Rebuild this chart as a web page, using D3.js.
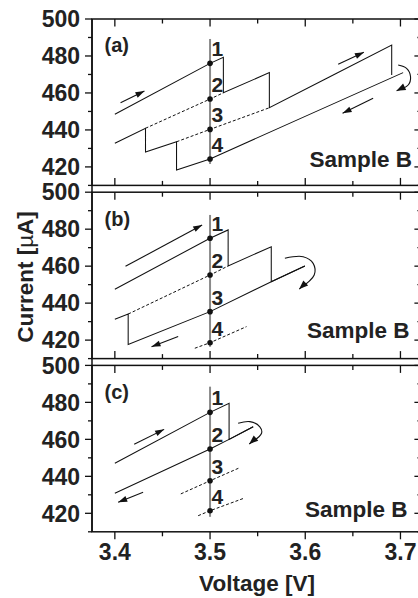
<!DOCTYPE html>
<html><head><meta charset="utf-8">
<script src="https://cdn.jsdelivr.net/npm/d3@7"></script>
<style>
html,body{margin:0;padding:0;background:#fff;}
svg{display:block;font-family:"Liberation Sans",Arial,Helvetica,sans-serif;font-weight:bold;}
</style></head><body>
<svg id="chart" width="418" height="598"></svg>
<script>
// Axis ticks
const xMajorTicks = [3.4, 3.5, 3.6, 3.7];
const xMinorTicks = [3.45, 3.55, 3.65];
const yMajorTicks = [420, 440, 460, 480, 500];
const yMinorTicks = [410, 430, 450, 470, 490];
const panelTags = ["(a)", "(b)", "(c)"];
const stateNames = ["1", "2", "3", "4"];
const sampleName = "Sample B";
const probeVoltage = 3.5;

// Current of states 1-4 at the 3.5 V probe, per panel
const probeA = [476.0, 456.7, 440.3, 424.3];
const probeB = [475.1, 455.2, 435.4, 418.6];
const probeC = [474.6, 454.8, 437.6, 421.4];

// Guide line extent at 3.5 V (current), per panel
const guideTop = [489.2, 487.7, 488.5];
const guideBottom = [421.6, 416.4, 418.1];

// Panel (a): upward sweep with three switching events, then the downward sweep
const sweepUpA = [[3.4,448.5],[3.5,476.0],[3.514,479.3],[3.514,460.1],[3.5623,471.0],[3.5623,452.0],[3.6258,468.8],[3.6908,485.9],[3.6908,469.7]];
const sweepDownA = [[3.7028,471.0],[3.5993,447.2],[3.5,424.3],[3.4648,418.3],[3.4648,433.6],[3.4322,428.1],[3.4322,440.9],[3.4,432.8]];
const branchesA = [
  [[3.4322,440.9],[3.5,456.7],[3.514,460.1]],
  [[3.4648,433.6],[3.5,440.3],[3.5623,452.0]]
];
const arrowsA = [
  [[3.406,454.7],[3.4311,461.0]],
  [[3.6346,475.5],[3.6616,482.0]],
  [[3.6713,457.1],[3.6392,449.0]]
];
const turnA = [[3.6976,475.1],[3.7064,473.3],[3.7106,468.8],[3.7081,464.3],[3.6959,461.2]];

// Panel (b): sweep reversed at 3.6 V
const sweepUpB = [[3.4,447.5],[3.5,475.1],[3.519,479.6],[3.519,460.1],[3.5643,470.5],[3.5643,451.6],[3.5996,460.1]];
const sweepDownB = [[3.5996,460.1],[3.5643,451.6],[3.5,435.4],[3.414,417.7],[3.414,434.1],[3.4,431.3]];
const branchesB = [
  [[3.414,434.1],[3.5,455.2],[3.519,460.1]],
  [[3.484,415.6],[3.5,418.6],[3.5383,427.3]]
];
const arrowsB = [
  [[3.4112,459.9],[3.4917,482.3]],
  [[3.4665,421.9],[3.4385,416.4]]
];
const turnB = [[3.5786,464.3],[3.5978,465.1],[3.6083,461.5],[3.6094,455.2],[3.5936,447.6]];

// Panel (c): sweep reversed at 3.545 V
const sweepUpC = [[3.4,447.1],[3.5,474.6],[3.52,479.5],[3.52,460.0],[3.5453,466.8]];
const sweepDownC = [[3.5453,466.8],[3.52,460.0],[3.5,454.8],[3.4,430.8]];
const branchesC = [
  [[3.4693,430.5],[3.5,437.6],[3.5313,444.7]],
  [[3.4875,418.7],[3.5,421.4],[3.5353,428.1]]
];
const arrowsC = [
  [[3.4203,457.3],[3.4518,465.4]],
  [[3.4297,431.4],[3.4035,426.0]]
];
const turnC = [[3.5295,468.7],[3.5418,469.6],[3.5523,466.8],[3.5541,463.3],[3.5411,457.5]];

// ---- layout ----
const plotLeft = 92, plotRight = 421.4;
const top0 = 19, panelH = 166.4, panelStep = 173.2;
const sampleX = [412, 409.5, 407.5];
const sampleDy = [18.7, 20.3, 14.5];
const tagDy = [32.5, 34, 34];

const svg = d3.select("#chart");
const x = d3.scaleLinear().domain([3.376, 3.722]).range([plotLeft, plotRight]);

const panels = [
  {probe: probeA, up: sweepUpA, down: sweepDownA, branches: branchesA, arrows: arrowsA, turn: turnA},
  {probe: probeB, up: sweepUpB, down: sweepDownB, branches: branchesB, arrows: arrowsB, turn: turnB},
  {probe: probeC, up: sweepUpC, down: sweepDownC, branches: branchesC, arrows: arrowsC, turn: turnC}
];

function arrowHead(g, p0, p1, len, half) {
  const dx = p1[0] - p0[0], dy = p1[1] - p0[1];
  const L = Math.hypot(dx, dy), ux = dx / L, uy = dy / L;
  const bx = p1[0] - ux * len, by = p1[1] - uy * len;
  g.append("path")
    .attr("d", `M${p1[0]},${p1[1]}L${bx - uy * half},${by + ux * half}L${bx + uy * half},${by - ux * half}Z`)
    .attr("fill", "#111");
}

panels.forEach((pd, i) => {
  const top = top0 + i * panelStep, bottom = top + panelH;
  const y = d3.scaleLinear().domain([410, 500]).range([bottom, top]);
  const g = svg.append("g");
  const line = d3.line().x(d => x(d[0])).y(d => y(d[1]));

  // y ticks (outward on the left, inward on the right)
  yMajorTicks.concat(yMinorTicks).forEach(v => {
    const major = yMajorTicks.includes(v);
    const len = major ? 7 : 4;
    g.append("line").attr("x1", plotLeft - len).attr("x2", plotLeft)
      .attr("y1", y(v)).attr("y2", y(v)).attr("stroke", "#111").attr("stroke-width", 1.3);
    g.append("line").attr("x1", plotRight - len).attr("x2", plotRight)
      .attr("y1", y(v)).attr("y2", y(v)).attr("stroke", "#111").attr("stroke-width", 1.3);
  });
  yMajorTicks.forEach(v => {
    g.append("text").attr("x", 80).attr("y", y(v)).attr("dy", "0.36em")
      .attr("text-anchor", "end").attr("font-size", 23).attr("fill", "#222").text(v);
  });

  // x ticks: inward on top, inward on bottom except the last panel
  xMajorTicks.concat(xMinorTicks).forEach(v => {
    const major = xMajorTicks.includes(v);
    const len = major ? 7.5 : 4.5;
    g.append("line").attr("x1", x(v)).attr("x2", x(v))
      .attr("y1", top).attr("y2", top + len).attr("stroke", "#111").attr("stroke-width", 1.3);
    if (i < 2) {
      g.append("line").attr("x1", x(v)).attr("x2", x(v))
        .attr("y1", bottom).attr("y2", bottom - len).attr("stroke", "#111").attr("stroke-width", 1.3);
    } else {
      g.append("line").attr("x1", x(v)).attr("x2", x(v))
        .attr("y1", bottom).attr("y2", bottom + len).attr("stroke", "#111").attr("stroke-width", 1.3);
    }
  });

  // frame
  g.append("rect").attr("x", plotLeft).attr("y", top)
    .attr("width", plotRight - plotLeft).attr("height", panelH)
    .attr("fill", "none").attr("stroke", "#111").attr("stroke-width", 1.5);

  // probe guide line
  g.append("line").attr("x1", x(probeVoltage)).attr("x2", x(probeVoltage))
    .attr("y1", y(guideTop[i])).attr("y2", y(guideBottom[i]))
    .attr("stroke", "#8a8a8a").attr("stroke-width", 2);

  // unswept branches
  pd.branches.forEach(b => {
    g.append("path").attr("d", line(b)).attr("fill", "none")
      .attr("stroke", "#111").attr("stroke-width", 1).attr("stroke-dasharray", "3,2");
  });

  // sweeps
  [pd.up, pd.down].forEach(s => {
    g.append("path").attr("d", line(s)).attr("fill", "none")
      .attr("stroke", "#111").attr("stroke-width", 1.05).attr("stroke-linejoin", "miter");
  });

  // state dots and numbers
  pd.probe.forEach((v, k) => {
    g.append("circle").attr("cx", x(probeVoltage)).attr("cy", y(v)).attr("r", 2.8).attr("fill", "#111");
    g.append("text").attr("x", x(probeVoltage) + 1.5).attr("y", y(v) - 7)
      .attr("font-size", 21).attr("fill", "#222").text(stateNames[k]);
  });

  // sweep direction arrows
  pd.arrows.forEach(a => {
    const p0 = [x(a[0][0]), y(a[0][1])], p1 = [x(a[1][0]), y(a[1][1])];
    g.append("line").attr("x1", p0[0]).attr("y1", p0[1]).attr("x2", p1[0]).attr("y2", p1[1])
      .attr("stroke", "#111").attr("stroke-width", 1.1);
    arrowHead(g, p0, p1, 9, 3);
  });

  // turning arrow
  const tp = pd.turn.map(d => [x(d[0]), y(d[1])]);
  g.append("path").attr("d", d3.line().curve(d3.curveCatmullRom)(tp))
    .attr("fill", "none").attr("stroke", "#111").attr("stroke-width", 1.1);
  arrowHead(g, tp[tp.length - 2], tp[tp.length - 1], 9, 3.5);

  // panel tag and sample name
  g.append("text").attr("x", 104.5).attr("y", top + tagDy[i])
    .attr("font-size", 20).attr("fill", "#222").text(panelTags[i]);
  g.append("text").attr("x", sampleX[i]).attr("y", bottom - sampleDy[i])
    .attr("text-anchor", "end").attr("font-size", 22.5).attr("fill", "#222").text(sampleName);

  if (i === 2) {
    xMajorTicks.forEach(v => {
      svg.append("text").attr("x", x(v)).attr("y", 560).attr("text-anchor", "middle")
        .attr("font-size", 23).attr("fill", "#222").text(v.toFixed(1));
    });
  }
});

// continuous left spine through the gaps
svg.append("line").attr("x1", plotLeft).attr("x2", plotLeft)
  .attr("y1", top0).attr("y2", top0 + 2 * panelStep + panelH)
  .attr("stroke", "#111").attr("stroke-width", 1.5);

// axis titles
svg.append("text").attr("x", 257).attr("y", 591).attr("text-anchor", "middle")
  .attr("font-size", 22.5).attr("fill", "#222").text("Voltage [V]");
const yt = svg.append("text").attr("transform", "translate(33,277) rotate(-90)")
  .attr("text-anchor", "middle").attr("font-size", 22.5).attr("fill", "#222");
yt.append("tspan").text("Current [");
yt.append("tspan").attr("font-weight", "normal").text("µ");
yt.append("tspan").text("A]");
</script>
</body></html>
